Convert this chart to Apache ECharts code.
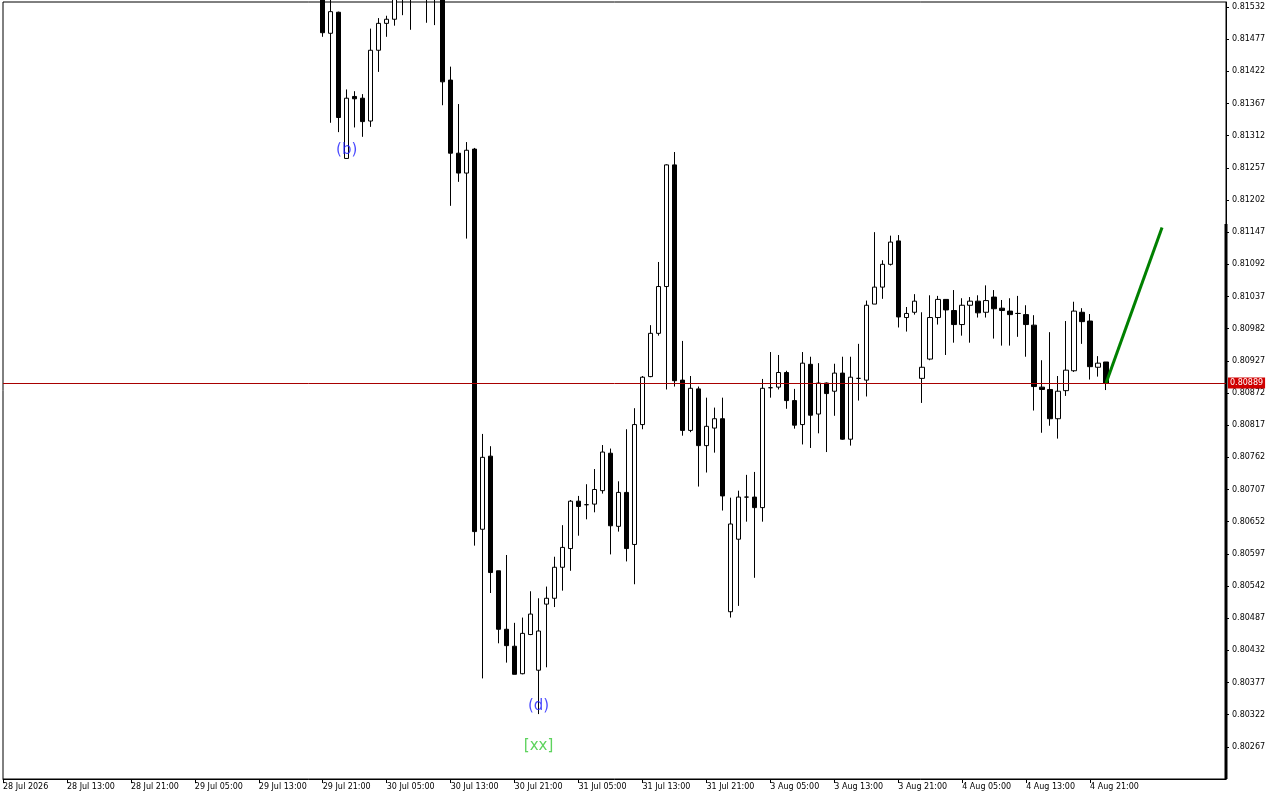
<!DOCTYPE html>
<html>
<head>
<meta charset="utf-8">
<title>H1 chart</title>
<script src="https://cdn.jsdelivr.net/npm/echarts@6/dist/echarts.min.js"></script>
<style>
    html, body { margin: 0; padding: 0; background: #fff; }
    #chart { width: 1280px; height: 800px; }
</style>
</head>
<body>
<div id="chart"></div>
<script>
// time labels, one every 8 hourly bars
const xLabels = [
    '28 Jul 2026', '28 Jul 13:00', '28 Jul 21:00', '29 Jul 05:00', '29 Jul 13:00', '29 Jul 21:00',
    '30 Jul 05:00', '30 Jul 13:00', '30 Jul 21:00', '31 Jul 05:00', '31 Jul 13:00', '31 Jul 21:00',
    '3 Aug 05:00', '3 Aug 13:00', '3 Aug 21:00', '4 Aug 05:00', '4 Aug 13:00', '4 Aug 21:00'
];

// bars before this index sit above the visible price range
const firstBar = 40;

const opens = [
    0.81578, 0.81487, 0.81523, 0.81273, 0.81379, 0.81376, 0.81337, 0.81458, 0.81504, 0.81511,
    0.81560, 0.81575, 0.81580, 0.81600, 0.81585, 0.81570, 0.81407, 0.81282, 0.81248, 0.81289,
    0.80639, 0.80764, 0.80568, 0.80468, 0.80439, 0.80392, 0.80459, 0.80398, 0.80511, 0.80521,
    0.80574, 0.80606, 0.80687, 0.80681, 0.80682, 0.80705, 0.80769, 0.80644, 0.80702, 0.80613,
    0.80818, 0.80900, 0.80974, 0.81054, 0.81262, 0.80894, 0.80808, 0.80879, 0.80782, 0.80812,
    0.80828, 0.80498, 0.80622, 0.80694, 0.80694, 0.80676, 0.80881, 0.80882, 0.80907, 0.80859,
    0.80818, 0.80921, 0.80836, 0.80889, 0.80875, 0.80906, 0.80793, 0.80897, 0.80894, 0.81024,
    0.81053, 0.81092, 0.81132, 0.81001, 0.81010, 0.80897, 0.80930, 0.81001, 0.81032, 0.81013,
    0.80989, 0.81022, 0.81029, 0.81010, 0.81036, 0.81017, 0.81012, 0.81008, 0.81006, 0.80988,
    0.80882, 0.80878, 0.80828, 0.80876, 0.80910, 0.81010, 0.80995, 0.80916, 0.80925
];
const closes = [
    0.81488, 0.81524, 0.81343, 0.81376, 0.81375, 0.81336, 0.81458, 0.81504, 0.81511, 0.81561,
    0.81575, 0.81580, 0.81600, 0.81585, 0.81570, 0.81404, 0.81282, 0.81248, 0.81287, 0.80635,
    0.80762, 0.80565, 0.80468, 0.80440, 0.80391, 0.80461, 0.80494, 0.80465, 0.80521, 0.80574,
    0.80608, 0.80687, 0.80678, 0.80681, 0.80707, 0.80771, 0.80645, 0.80702, 0.80606, 0.80818,
    0.80899, 0.80974, 0.81054, 0.81262, 0.80893, 0.80808, 0.80880, 0.80782, 0.80815, 0.80828,
    0.80696, 0.80648, 0.80694, 0.80694, 0.80676, 0.80880, 0.80881, 0.80907, 0.80859, 0.80817,
    0.80923, 0.80834, 0.80889, 0.80871, 0.80906, 0.80793, 0.80899, 0.80897, 0.81022, 0.81053,
    0.81092, 0.81130, 0.81002, 0.81008, 0.81029, 0.80916, 0.81001, 0.81032, 0.81014, 0.80989,
    0.81022, 0.81029, 0.81009, 0.81030, 0.81016, 0.81013, 0.81006, 0.81008, 0.80989, 0.80883,
    0.80878, 0.80828, 0.80875, 0.80911, 0.81012, 0.80994, 0.80917, 0.80923, 0.80889
];
const lows = [
    0.81481, 0.81334, 0.81318, 0.81273, 0.81326, 0.81310, 0.81327, 0.81421, 0.81481, 0.81500,
    0.81518, 0.81493, 0.81555, 0.81505, 0.81501, 0.81364, 0.81192, 0.81233, 0.81136, 0.80611,
    0.80384, 0.80530, 0.80444, 0.80411, 0.80391, 0.80391, 0.80458, 0.80323, 0.80403, 0.80506,
    0.80534, 0.80568, 0.80628, 0.80656, 0.80668, 0.80700, 0.80596, 0.80635, 0.80584, 0.80545,
    0.80810, 0.80899, 0.80970, 0.80878, 0.80883, 0.80799, 0.80805, 0.80712, 0.80736, 0.80770,
    0.80671, 0.80488, 0.80508, 0.80652, 0.80556, 0.80652, 0.80864, 0.80878, 0.80845, 0.80811,
    0.80784, 0.80778, 0.80803, 0.80771, 0.80833, 0.80792, 0.80782, 0.80859, 0.80866, 0.81024,
    0.81033, 0.81090, 0.80984, 0.80977, 0.81006, 0.80855, 0.80928, 0.80989, 0.80937, 0.80958,
    0.80970, 0.80958, 0.81001, 0.81001, 0.80965, 0.80953, 0.80953, 0.80968, 0.80934, 0.80842,
    0.80804, 0.80816, 0.80794, 0.80867, 0.80908, 0.80956, 0.80895, 0.80900, 0.80877
];
const highs = [
    0.81595, 0.81561, 0.81524, 0.81391, 0.81388, 0.81383, 0.81495, 0.81513, 0.81517, 0.81578,
    0.81600, 0.81610, 0.81620, 0.81625, 0.81610, 0.81590, 0.81430, 0.81366, 0.81301, 0.81291,
    0.80802, 0.80781, 0.80568, 0.80595, 0.80479, 0.80488, 0.80533, 0.80521, 0.80541, 0.80592,
    0.80646, 0.80689, 0.80696, 0.80716, 0.80742, 0.80783, 0.80777, 0.80721, 0.80810, 0.80846,
    0.80901, 0.80988, 0.81096, 0.81263, 0.81284, 0.80961, 0.80901, 0.80883, 0.80864, 0.80847,
    0.80864, 0.80693, 0.80705, 0.80732, 0.80737, 0.80896, 0.80942, 0.80937, 0.80910, 0.80879,
    0.80942, 0.80934, 0.80923, 0.80890, 0.80922, 0.80934, 0.80934, 0.80956, 0.81030, 0.81147,
    0.81099, 0.81141, 0.81142, 0.81019, 0.81041, 0.81010, 0.81039, 0.81038, 0.81032, 0.81048,
    0.81034, 0.81036, 0.81039, 0.81056, 0.81048, 0.81031, 0.81034, 0.81038, 0.81022, 0.81005,
    0.80928, 0.80976, 0.80901, 0.80995, 0.81028, 0.81017, 0.81007, 0.80935, 0.80925
];

const lastPrice = 0.80889;

// projected move (green line)
const projBars = [138, 145];
const projPrices = [0.80889, 0.81155];

// wave marks
const waveNames = ['(b)', '(d)', '[xx]'];
const waveBars = [43, 67, 67];
const wavePrices = [0.81288, 0.80337, 0.80268];

// price scale
const priceMin = 0.80212;
const priceMax = 0.815405;
const priceStep = 0.00055;
const barCount = 154;
const scaleMarkTop = 0.81161;

// hourly bars, weekend skipped
const days = [['28 Jul', 5], ['29 Jul', 0], ['30 Jul', 0], ['31 Jul', 0], ['3 Aug', 0], ['4 Aug', 0], ['5 Aug', 0]];
const categories = [];
days.forEach(d => {
    for (let h = d[1]; h < 24; h++) {
        categories.push(d[0] + ' ' + String(h).padStart(2, '0') + ':00');
    }
});
categories.length = barCount;

const candles = categories.map((c, i) => {
    const k = i - firstBar;
    if (k < 0 || k >= opens.length) return ['-', '-', '-', '-'];
    return [opens[k], closes[k], lows[k], highs[k]];
});

const waveColors = { '(b)': '#1c1cff', '(d)': '#1c1cff', '[xx]': '#36c836' };

const showLabel = idx => idx % 8 === 0 && idx / 8 < xLabels.length;

const chart = echarts.init(document.getElementById('chart'));

chart.setOption({
    animation: false,
    backgroundColor: '#fff',
    grid: {
        left: 2, top: 2, right: 54, bottom: 21,
        show: true, borderColor: '#000', borderWidth: 1
    },
    xAxis: {
        type: 'category',
        data: categories,
        boundaryGap: false,
        axisLine: { lineStyle: { color: '#000', width: 1 } },
        axisTick: { interval: showLabel, length: 4, lineStyle: { color: '#000' } },
        axisLabel: {
            interval: showLabel,
            formatter: (v, idx) => xLabels[idx / 8],
            align: 'left',
            margin: 4,
            color: '#000',
            fontFamily: 'DejaVu Sans',
            fontSize: 8
        },
        splitLine: { show: false }
    },
    yAxis: {
        type: 'value',
        position: 'right',
        min: priceMin,
        max: priceMax,
        interval: priceStep,
        axisLine: { show: true, lineStyle: { color: '#000', width: 1 } },
        axisTick: { show: true, length: 3, lineStyle: { color: '#000' } },
        axisLabel: {
            formatter: v => v.toFixed(5),
            showMinLabel: false,
            showMaxLabel: false,
            margin: 6,
            color: '#000',
            fontFamily: 'DejaVu Sans',
            fontSize: 8
        },
        splitLine: { show: false }
    },
    series: [
        {
            type: 'candlestick',
            data: candles,
            barWidth: 5,
            silent: true,
            itemStyle: {
                color: '#fff', color0: '#000',
                borderColor: '#000', borderColor0: '#000', borderColorDoji: '#000',
                borderWidth: 1
            },
            markLine: {
                silent: true,
                symbol: 'none',
                precision: 5,
                data: [{ yAxis: lastPrice }],
                lineStyle: { color: '#a80000', width: 1, type: 'solid' },
                label: {
                    show: true,
                    position: 'end',
                    distance: 2,
                    formatter: p => Number(p.value).toFixed(5),
                    color: '#fff',
                    backgroundColor: '#d00000',
                    padding: [2, 2, 1, 2],
                    fontFamily: 'DejaVu Sans',
                    fontSize: 8
                }
            },
            z: 2
        },
        {
            type: 'line',
            data: projBars.map((b, i) => [b, projPrices[i]]),
            symbol: 'none',
            silent: true,
            lineStyle: { color: '#008000', width: 3 },
            z: 3
        },
        {
            type: 'line',
            data: [[barCount - 1, scaleMarkTop], [barCount - 1, priceMin]],
            symbol: 'none',
            silent: true,
            clip: false,
            lineStyle: { color: '#000', width: 3 },
            z: 4
        },
        {
            type: 'scatter',
            silent: true,
            symbolSize: 0,
            data: waveNames.map((n, i) => ({
                value: [waveBars[i], wavePrices[i]],
                label: { formatter: n, color: waveColors[n] }
            })),
            label: {
                show: true,
                position: 'inside',
                fontFamily: 'DejaVu Sans',
                fontSize: 15
            },
            z: 5
        }
    ]
});
</script>
</body>
</html>
